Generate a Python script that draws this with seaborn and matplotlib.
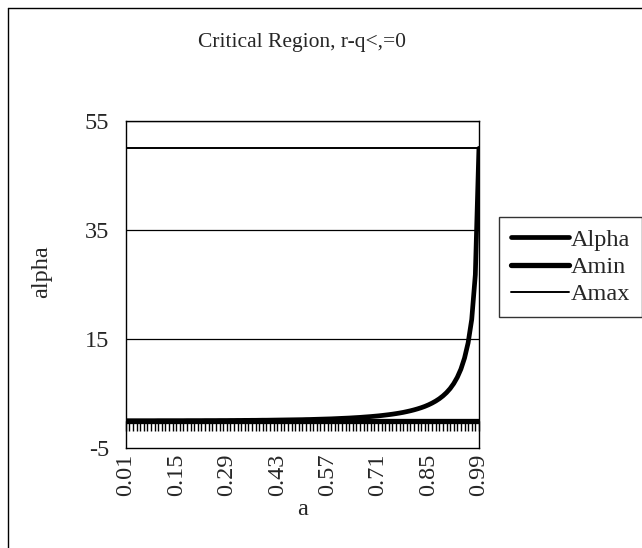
import matplotlib
matplotlib.use("Agg")
import matplotlib.pyplot as plt
import matplotlib.lines as mlines
import pandas as pd
import seaborn as sns

# Category axis values of a
a = [0.01, 0.02, 0.03, 0.04, 0.05, 0.06, 0.07, 0.08, 0.09, 0.10,
     0.11, 0.12, 0.13, 0.14, 0.15, 0.16, 0.17, 0.18, 0.19, 0.20,
     0.21, 0.22, 0.23, 0.24, 0.25, 0.26, 0.27, 0.28, 0.29, 0.30,
     0.31, 0.32, 0.33, 0.34, 0.35, 0.36, 0.37, 0.38, 0.39, 0.40,
     0.41, 0.42, 0.43, 0.44, 0.45, 0.46, 0.47, 0.48, 0.49, 0.50,
     0.51, 0.52, 0.53, 0.54, 0.55, 0.56, 0.57, 0.58, 0.59, 0.60,
     0.61, 0.62, 0.63, 0.64, 0.65, 0.66, 0.67, 0.68, 0.69, 0.70,
     0.71, 0.72, 0.73, 0.74, 0.75, 0.76, 0.77, 0.78, 0.79, 0.80,
     0.81, 0.82, 0.83, 0.84, 0.85, 0.86, 0.87, 0.88, 0.89, 0.90,
     0.91, 0.92, 0.93, 0.94, 0.95, 0.96, 0.97, 0.98, 0.99]

alpha = [0.00, 0.00, 0.00, 0.00, 0.00, 0.00, 0.00, 0.00, 0.00, 0.01,
         0.01, 0.01, 0.01, 0.01, 0.01, 0.01, 0.01, 0.02, 0.02, 0.02,
         0.02, 0.02, 0.03, 0.03, 0.03, 0.03, 0.04, 0.04, 0.04, 0.05,
         0.05, 0.06, 0.06, 0.07, 0.07, 0.08, 0.08, 0.09, 0.10, 0.10,
         0.11, 0.12, 0.13, 0.14, 0.15, 0.16, 0.17, 0.18, 0.19, 0.20,
         0.22, 0.23, 0.25, 0.27, 0.29, 0.31, 0.33, 0.35, 0.38, 0.41,
         0.44, 0.47, 0.50, 0.54, 0.58, 0.62, 0.67, 0.72, 0.77, 0.83,
         0.89, 0.96, 1.04, 1.12, 1.21, 1.31, 1.42, 1.54, 1.68, 1.83,
         2.00, 2.19, 2.40, 2.64, 2.92, 3.24, 3.61, 4.04, 4.55, 5.16,
         5.90, 6.82, 7.98, 9.48, 11.50, 14.30, 18.60, 26.80, 50.00]

amin = [0.0] * len(a)
amax = [50.0] * len(a)

x_tick_labels = ["0.01", "0.15", "0.29", "0.43", "0.57", "0.71", "0.85", "0.99"]
y_ticks = [-5, 15, 35, 55]

df = pd.DataFrame({"a": a, "Alpha": alpha, "Amin": amin, "Amax": amax})

sns.set_style("white")
plt.rcParams["font.family"] = ["Liberation Serif", "DejaVu Serif"]

fig = plt.figure(figsize=(6.42, 5.48), dpi=100)
ax = fig.add_axes([0.196, 0.1825, 0.55, 0.5965])

styles = {"Alpha": 3.4, "Amin": 3.8, "Amax": 1.4}
for name, lw in styles.items():
    sns.lineplot(data=df, x="a", y=name, ax=ax, color="black", linewidth=lw,
                 legend=False, zorder=3)

ax.set_xlim(0.01, 0.99)
ax.set_ylim(-5, 55)
ax.set_yticks(y_ticks)
ax.set_yticklabels([str(v) for v in y_ticks], fontsize=17.5)
ax.set_xticks([float(t) for t in x_tick_labels])
ax.set_xticklabels(x_tick_labels, rotation=90, fontsize=17.5)
ax.tick_params(axis="y", direction="out", length=6, width=1, color="black", pad=6)
ax.tick_params(axis="x", direction="out", length=3, width=1, color="black", pad=1)

for v in y_ticks[1:]:
    ax.axhline(v, color="black", linewidth=0.9, zorder=1)

for side in ["left", "bottom", "right", "top"]:
    ax.spines[side].set_visible(True)
    ax.spines[side].set_color("black")
    ax.spines[side].set_linewidth(1.0)

# Category tick marks along the zero line
sec = ax.secondary_xaxis(5 / 60)
sec.set_xticks(a)
sec.tick_params(axis="x", direction="out", length=7, width=1, color="black",
                labelbottom=False, labeltop=False)
sec.spines["bottom"].set_linewidth(0.8)

ax.set_xlabel("a", fontsize=17.5, labelpad=2)
ax.set_ylabel("alpha", fontsize=17.5)
ax.yaxis.set_label_coords(-0.21, 0.54)
ax.set_title("Critical Region, r-q<,=0", fontsize=15.5, pad=53)

handles = [mlines.Line2D([], [], color="black", linewidth=lw) for lw in styles.values()]
leg = fig.legend(handles, list(styles.keys()), loc="upper left",
                 bbox_to_anchor=(499 / 642, 1 - 217 / 548), fontsize=17.5,
                 frameon=True, fancybox=False, edgecolor="black",
                 handlelength=2.4, handletextpad=0.08, borderpad=0.48,
                 labelspacing=0.22, borderaxespad=0)
leg.get_frame().set_linewidth(1.0)

# Chart area border (top and left edges)
fig.add_artist(mlines.Line2D([8 / 642, 1], [1 - 8 / 548, 1 - 8 / 548],
                             transform=fig.transFigure, color="black", linewidth=1))
fig.add_artist(mlines.Line2D([8 / 642, 8 / 642], [0, 1 - 8 / 548],
                             transform=fig.transFigure, color="black", linewidth=1))

fig.savefig("out.png", dpi=100)
